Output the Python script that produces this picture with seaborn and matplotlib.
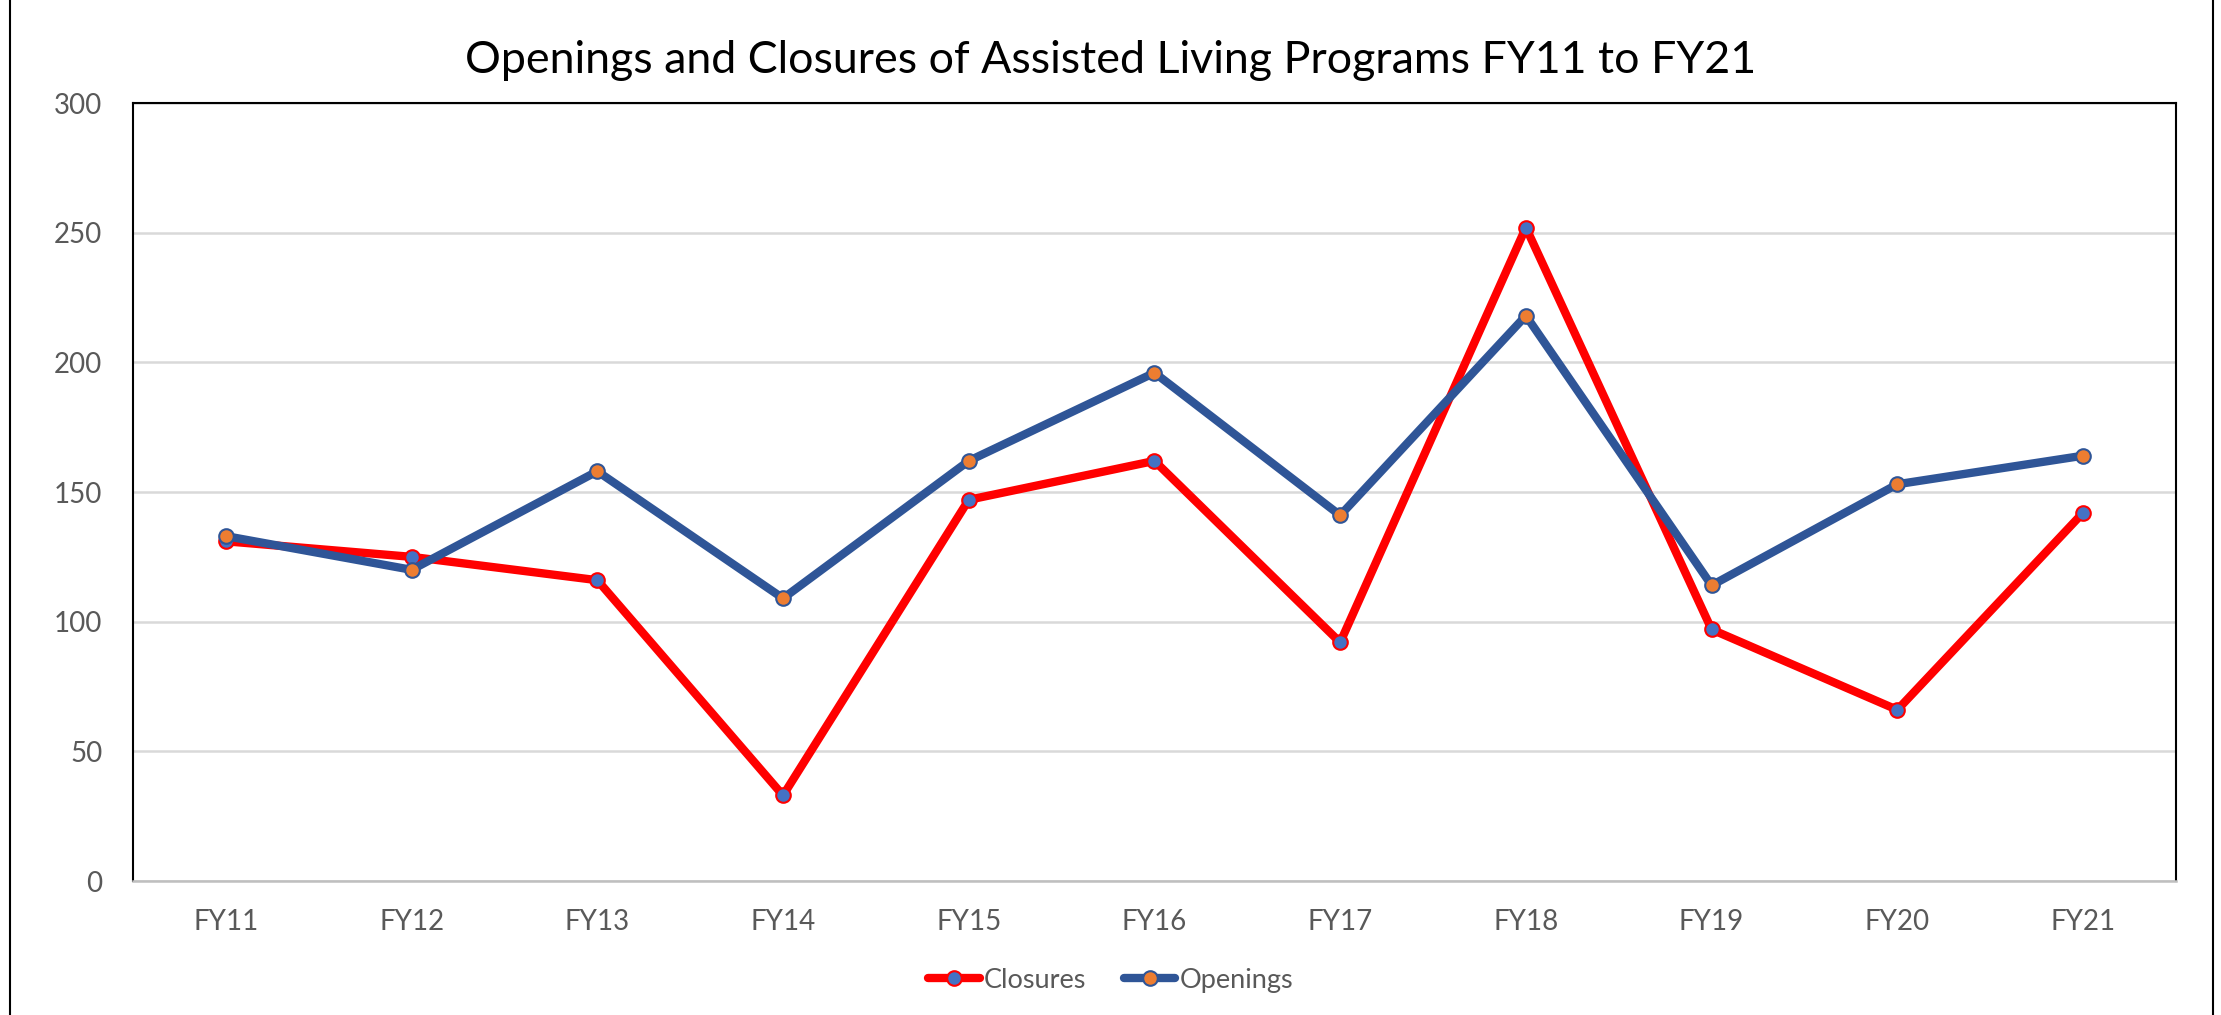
import pandas as pd
import matplotlib.pyplot as plt
import seaborn as sns
from matplotlib.lines import Line2D

# Dados
anos = ["FY11", "FY12", "FY13", "FY14", "FY15", "FY16", "FY17", "FY18", "FY19", "FY20", "FY21"]
fechamentos = [131, 125, 116, 33, 147, 162, 92, 252, 97, 66, 142]
aberturas = [133, 120, 158, 109, 162, 196, 141, 218, 114, 153, 164]

df = pd.DataFrame({"Ano": anos, "Closures": fechamentos, "Openings": aberturas})

sns.set_theme(style="white")
plt.rcParams["font.family"] = ["Lato", "DejaVu Sans"]

fig = plt.figure(figsize=(22.21, 10.15), dpi=100)
ax = fig.add_axes([0.0599, 0.132, 0.9198, 0.7665])

sns.lineplot(data=df, x="Ano", y="Closures", ax=ax, color="#FF0000", linewidth=6,
             marker="o", markersize=10.5, markerfacecolor="#4472C4",
             markeredgecolor="#FF0000", markeredgewidth=1.5, label="Closures", sort=False)
sns.lineplot(data=df, x="Ano", y="Openings", ax=ax, color="#2F5597", linewidth=6,
             marker="o", markersize=10.5, markerfacecolor="#ED7D31",
             markeredgecolor="#2F5597", markeredgewidth=1.5, label="Openings", sort=False)

ax.set_xlim(-0.5, len(anos) - 0.5)
ax.set_ylim(0, 300)
ax.set_yticks(range(0, 301, 50))
ax.yaxis.grid(True, color="#D9D9D9", linewidth=1.8)
ax.set_axisbelow(True)
ax.set_xlabel("")
ax.set_ylabel("")
ax.tick_params(axis="both", length=0, labelsize=20, labelcolor="#595959")
ax.tick_params(axis="x", pad=20)
ax.tick_params(axis="y", pad=22)

for lado in ["left", "top", "right"]:
    ax.spines[lado].set_color("black")
    ax.spines[lado].set_linewidth(1.5)
ax.spines["bottom"].set_color("#BFBFBF")
ax.spines["bottom"].set_linewidth(1.8)

fig.text(0.5, 0.94, "Openings and Closures of Assisted Living Programs FY11 to FY21",
         ha="center", va="center", fontsize=32.2, color="black")

ax.legend(loc="upper center", bbox_to_anchor=(0.4785, -0.08), ncol=2, frameon=False,
          fontsize=19.5, labelcolor="#595959", handlelength=1.9, handletextpad=0.15,
          columnspacing=1.4)

# bordas externas do gráfico
fig.add_artist(Line2D([0.0045, 0.0045], [0, 1], color="black", linewidth=1.5))
fig.add_artist(Line2D([0.9964, 0.9964], [0, 1], color="black", linewidth=1.5))

plt.savefig("out.png", dpi=100, facecolor="white")
